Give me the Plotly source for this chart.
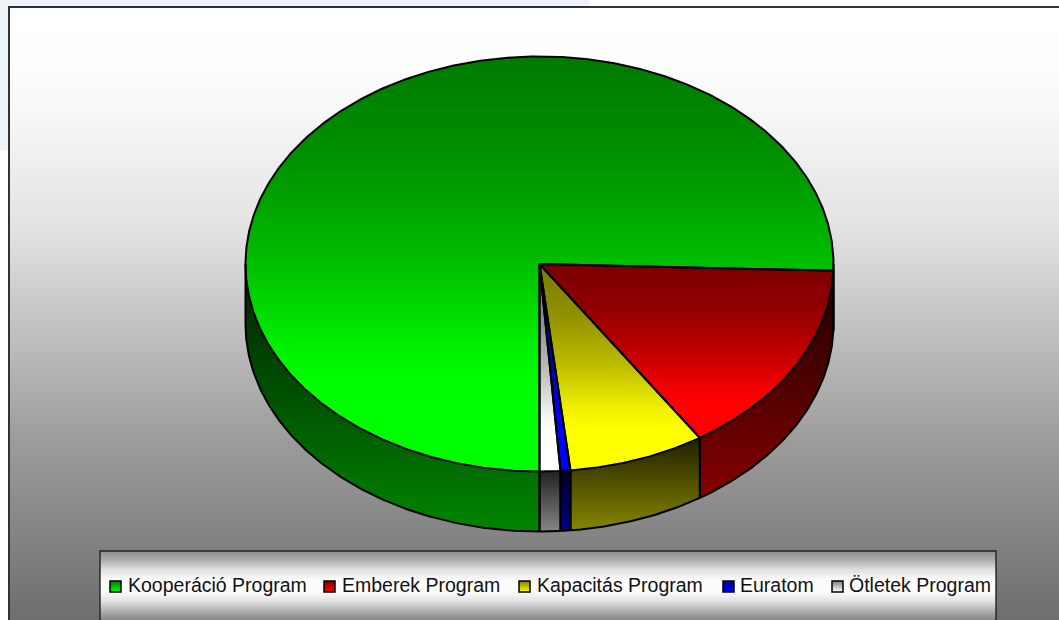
import numpy as np
import plotly.graph_objects as go

categories = ["Kooperáció Program", "Emberek Program", "Kapacitás Program", "Euratom", "Ötletek Program"]
values = [75.5, 15.3, 7.5, 0.54, 1.14]
legend_text_x = [128, 342, 537, 740, 849]
legend_key_x = [110, 324, 519, 723, 832]
base_rgb = [(0, 255, 0), (255, 0, 0), (255, 255, 0), (0, 0, 255), (255, 255, 255)]
bg_stops_y = [8, 60, 120, 230, 350, 440, 530, 620]
bg_stops_v = [255, 254, 246, 226, 186, 156, 133, 110]
legend_stops_y = [551, 560, 570, 580, 592, 602, 612, 620]
legend_stops_v = [140, 172, 225, 252, 252, 222, 170, 135]
top_curve_pos = [0.0, 0.25, 0.5, 0.7, 0.8, 1.0]
top_curve_f = [0.48, 0.57, 0.75, 0.94, 1.0, 1.0]

W, H = 1059, 620
CX, CY, RX, RY, DEPTH = 539.5, 264.0, 294.0, 207.5, 60.0
FRAME_L, FRAME_T = 9, 7
LEG_L, LEG_R, LEG_T = 100, 996, 551


def shade(rgb, f):
    return "rgb(%d,%d,%d)" % tuple(int(round(c * f)) for c in rgb)


def stop_scale(ys, vs):
    y0, y1 = ys[0], ys[-1]
    return [[(y - y0) / (y1 - y0), "rgb(%d,%d,%d)" % (v, v, v)] for y, v in zip(ys, vs)]


fig = go.Figure()


def vertical_band(x0, x1, ys, vs, name):
    edges = np.arange(ys[0], ys[-1] + 1, dtype=float)
    z = ((edges[:-1] + 0.5)[:, None])
    fig.add_trace(go.Heatmap(x=[x0, x1], y=edges, z=z, zmin=ys[0], zmax=ys[-1], showscale=False,
                             colorscale=stop_scale(ys, vs), hoverinfo="skip", name=name))


def masked_gradient(xs, ys, mask, scale, name):
    rows = np.where(mask.any(axis=1))[0]
    cols = np.where(mask.any(axis=0))[0]
    if rows.size == 0:
        return
    r0, r1, c0, c1 = rows[0], rows[-1] + 1, cols[0], cols[-1] + 1
    ytop, ybot = ys[r0], ys[r1]
    yy = (ys[r0:r1] + 0.5 - ytop) / (ybot - ytop)
    z = np.repeat(yy[:, None], c1 - c0, axis=1)
    z = np.where(mask[r0:r1, c0:c1], z, np.nan)
    fig.add_trace(go.Heatmap(x=xs[c0:c1 + 1], y=ys[r0:r1 + 1], z=z, zmin=0, zmax=1, showscale=False,
                             colorscale=scale, hoverinfo="skip", name=name, hoverongaps=False))


# background and chart area
vertical_band(FRAME_L, W, bg_stops_y, bg_stops_v, "background")

# slice angles, clockwise from the bottom of the ellipse
fractions = np.array(values, dtype=float) / np.sum(values)
ends = np.cumsum(fractions) * 360.0
starts = np.concatenate([[0.0], ends[:-1]])

xe = np.arange(0, W + 1, dtype=float)
ye = np.arange(0, H + 1, dtype=float)
px, py = np.meshgrid(xe[:-1] + 0.5, ye[:-1] + 0.5)
u = (px - CX) / RX
v = (py - CY) / RY
phi = (-np.degrees(np.arctan2(u, v))) % 360.0
inside = u ** 2 + v ** 2 <= 1.0
uc = np.clip(u, -1, 1)
rim = np.sqrt(1 - uc ** 2)
rim_y = CY + RY * rim
rim_phi = (-np.degrees(np.arctan2(uc, rim))) % 360.0
wall = (np.abs(u) <= 1) & (py >= rim_y - 1) & (py <= rim_y + DEPTH)

# side walls
for i, name in enumerate(categories):
    m = wall & (rim_phi >= starts[i]) & (rim_phi <= ends[i])
    masked_gradient(xe, ye, m, [[0, shade(base_rgb[i], 0.12)], [1, shade(base_rgb[i], 0.52)]], name + " wall")

# top faces
for i, name in enumerate(categories):
    m = inside & (phi >= starts[i]) & (phi < ends[i])
    scale = [[p, shade(base_rgb[i], f)] for p, f in zip(top_curve_pos, top_curve_f)]
    masked_gradient(xe, ye, m, scale, name)


def rim_xy(deg, dy=0.0):
    a = np.radians(deg)
    return CX - RX * np.sin(a), CY + RY * np.cos(a) + dy


def line(xs, ys, width=2.0):
    fig.add_trace(go.Scatter(x=xs, y=ys, mode="lines", line=dict(color="black", width=width),
                             hoverinfo="skip", showlegend=False))


# outlines derived from the slice angles
for s, e in zip(starts, ends):
    arc = np.linspace(s, e, max(int(e - s) * 2, 8))
    ax, ay = rim_xy(arc)
    line(np.concatenate([[CX], ax, [CX]]), np.concatenate([[CY], ay, [CY]]))
    for lo, hi in ((0.0, 90.0), (270.0, 360.0)):
        a0, a1 = max(s, lo), min(e, hi)
        if a1 > a0:
            bx, by = rim_xy(np.linspace(a0, a1, max(int(a1 - a0) * 2, 4)), DEPTH)
            line(bx, by)
    for edge in (s, e):
        if np.cos(np.radians(edge)) >= -0.02:
            x0, y0 = rim_xy(edge)
            line([x0, x0], [y0, y0 + DEPTH])
for edge in (90.0, 270.0):
    x0, y0 = rim_xy(edge)
    line([x0, x0], [y0, y0 + DEPTH])

# legend box
vertical_band(LEG_L, LEG_R, legend_stops_y, legend_stops_v, "legend background")
annotations = []
shapes = [
    dict(type="rect", xref="x", yref="y", x0=0, x1=590, y0=0, y1=FRAME_T, fillcolor="#EFF4FA", line_width=0, layer="below"),
    dict(type="rect", xref="x", yref="y", x0=0, x1=FRAME_L, y0=0, y1=150, fillcolor="#EFF4FA", line_width=0, layer="below"),
]
for i, name in enumerate(categories):
    kx0, kx1, ky0, ky1 = legend_key_x[i], legend_key_x[i] + 11, 581, 592
    kxe = np.arange(kx0, kx1 + 1, dtype=float)
    kye = np.arange(ky0, ky1 + 1, dtype=float)
    masked_gradient(kxe, kye, np.ones((ky1 - ky0, kx1 - kx0), dtype=bool),
                    [[0, shade(base_rgb[i], 0.5)], [1, shade(base_rgb[i], 1.0)]], name + " key")
    shapes.append(dict(type="rect", xref="x", yref="y", x0=kx0, x1=kx1, y0=ky0, y1=ky1,
                       line=dict(color="black", width=1.5)))
    annotations.append(dict(x=legend_text_x[i] - 2, y=585, xref="x", yref="y", text=name, showarrow=False,
                            xanchor="left", yanchor="middle",
                            font=dict(family="Liberation Sans", size=19.5, color="#111111")))

shapes.append(dict(type="rect", xref="x", yref="y", x0=LEG_L, x1=LEG_R, y0=LEG_T, y1=H + 5,
                   line=dict(color="#222222", width=1.4)))
shapes.append(dict(type="rect", xref="x", yref="y", x0=FRAME_L, x1=W + 5, y0=FRAME_T, y1=H + 5,
                   line=dict(color="#333333", width=2)))

fig.update_layout(
    width=W, height=H, margin=dict(l=0, r=0, t=0, b=0), paper_bgcolor="white", plot_bgcolor="white",
    showlegend=False,
    xaxis=dict(range=[0, W], visible=False, fixedrange=True),
    yaxis=dict(range=[H, 0], visible=False, fixedrange=True),
    annotations=annotations, shapes=shapes,
)
fig.write_html("out.html", config={"displayModeBar": False},
               post_script="document.body.style.margin='0';document.body.style.overflow='hidden';")
